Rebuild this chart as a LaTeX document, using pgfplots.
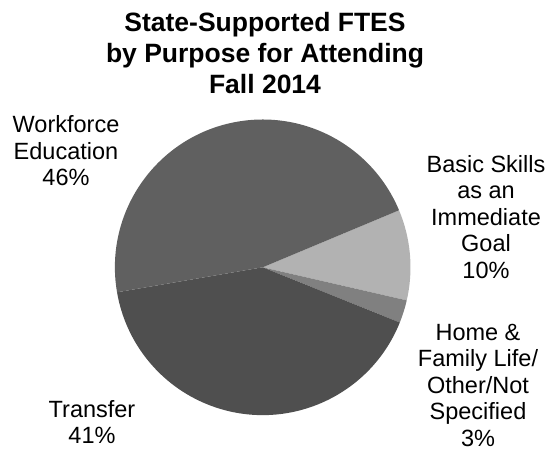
\documentclass[border=0pt]{standalone}
\usepackage{pgfplots}
\pgfplotsset{compat=1.18}
\usepackage{pgfplotstable}
\usepackage{fontspec}
\setmainfont{Liberation Sans}

\definecolor{cBasic}{HTML}{B2B2B2}
\definecolor{cHome}{HTML}{808080}
\definecolor{cTransfer}{HTML}{4F4F4F}
\definecolor{cWork}{HTML}{606060}

% purpose  share (%)
\pgfplotstableread{
name value
Basic 9.9
Home 2.5
Transfer 41.2
Workforce 46.4
}\piedata

\pgfplotstablegetelem{0}{value}\of\piedata \let\vA\pgfplotsretval
\pgfplotstablegetelem{1}{value}\of\piedata \let\vB\pgfplotsretval
\pgfplotstablegetelem{2}{value}\of\piedata \let\vC\pgfplotsretval
\pgfplotstablegetelem{3}{value}\of\piedata \let\vD\pgfplotsretval
\pgfmathsetmacro\aA{22.7}
\pgfmathsetmacro\aB{\aA-3.6*\vA}
\pgfmathsetmacro\aC{\aB-3.6*\vB}
\pgfmathsetmacro\aD{\aC-3.6*\vC}
\pgfmathsetmacro\aE{\aD-3.6*\vD}

\begin{document}
\begin{tikzpicture}
\begin{axis}[
  width=551bp, height=454bp, scale only axis,
  xmin=0, xmax=551, ymin=0, ymax=454,
  hide axis, clip=false,
]
\path (axis cs:0,0) rectangle (axis cs:551,454);
\fill[cBasic] (axis cs:262.7,186.7) -- ++(\aA:147.8bp) arc[start angle=\aA, end angle=\aB, radius=147.8bp] -- cycle;
\fill[cHome] (axis cs:262.7,186.7) -- ++(\aB:147.8bp) arc[start angle=\aB, end angle=\aC, radius=147.8bp] -- cycle;
\fill[cTransfer] (axis cs:262.7,186.7) -- ++(\aC:147.8bp) arc[start angle=\aC, end angle=\aD, radius=147.8bp] -- cycle;
\fill[cWork] (axis cs:262.7,186.7) -- ++(\aD:147.8bp) arc[start angle=\aD, end angle=\aE, radius=147.8bp] -- cycle;

\node[align=center, font=\bfseries\fontsize{26.5bp}{31bp}\selectfont] at (axis cs:265,401) {State-Supported FTES\\by Purpose for Attending\\Fall 2014};
\node[align=center, font=\fontsize{23.5bp}{26.5bp}\selectfont] at (axis cs:66,303) {Workforce\\Education\\46\%};
\node[align=center, font=\fontsize{23.5bp}{26.5bp}\selectfont] at (axis cs:486,237) {Basic Skills\\as an\\Immediate\\Goal\\10\%};
\node[align=center, font=\fontsize{23.5bp}{26.5bp}\selectfont] at (axis cs:478,69) {Home \&\\Family Life/\\Other/Not\\Specified\\3\%};
\node[align=center, font=\fontsize{23.5bp}{26.5bp}\selectfont] at (axis cs:92,32) {Transfer\\41\%};
\end{axis}
\end{tikzpicture}
\end{document}
